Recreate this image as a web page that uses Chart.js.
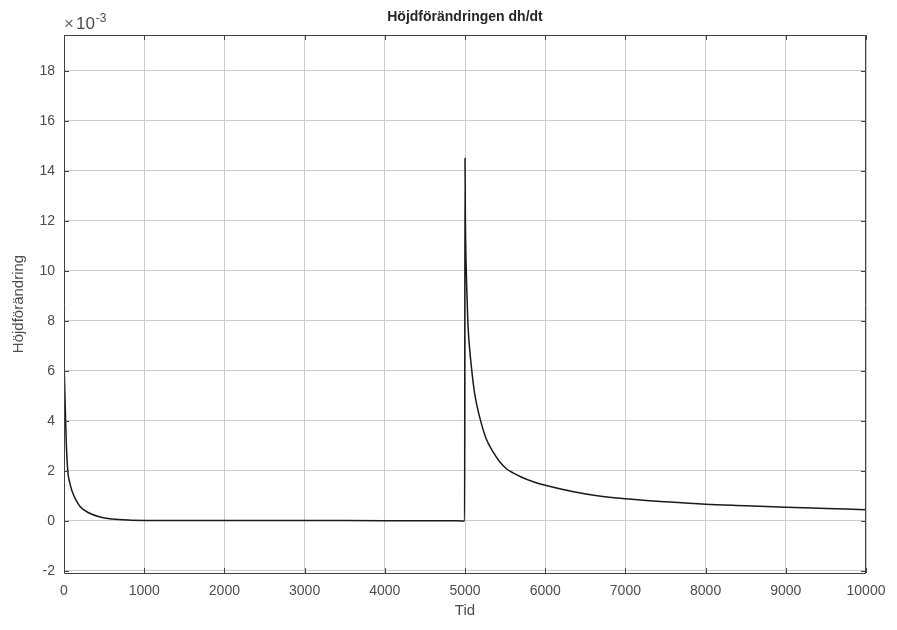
<!DOCTYPE html>
<html>
<head>
<meta charset="utf-8">
<script src="https://cdn.jsdelivr.net/npm/chart.js@4"></script>
<style>
  html, body { margin: 0; padding: 0; background: #fff; }
  #wrap { width: 897px; height: 630px; }
</style>
</head>
<body>
<div id="wrap"><canvas id="dhChart" width="897" height="630"></canvas></div>
<script>
// time (s) and dh/dt in units of 1e-3
const tid = [0, 10, 20, 30, 47, 70, 100, 150, 200, 300, 450, 600, 800, 1000, 1500, 2000, 3000, 4000, 4900, 4995,
             5000, 5005, 5012, 5020, 5035, 5045, 5060, 5085, 5120, 5150, 5195, 5260, 5350, 5430, 5520,
             5600, 5700, 5850, 6000, 6370, 6650, 7000, 7500, 8000, 8500, 9000, 9500, 10000];
const dhdt = [6.5, 5.2, 4.0, 3.0, 2.0, 1.55, 1.2, 0.83, 0.58, 0.34, 0.16, 0.08, 0.035, 0.02, 0.015, 0.02, 0.02, 0.01, 0.005, 0.0,
              14.5, 12.0, 10.5, 9.5, 8.0, 7.4, 6.8, 6.0, 5.1, 4.6, 4.0, 3.32, 2.76, 2.38, 2.08,
              1.92, 1.76, 1.57, 1.43, 1.16, 1.01, 0.89, 0.77, 0.67, 0.61, 0.55, 0.50, 0.45];
const xTicks = [0, 1000, 2000, 3000, 4000, 5000, 6000, 7000, 8000, 9000, 10000];
const yTicks = [-2, 0, 2, 4, 6, 8, 10, 12, 14, 16, 18];

const titleText = 'Höjdförändringen dh/dt';
const xLabel = 'Tid';
const yLabel = 'Höjdförändring';

const FONT = '"Liberation Sans", Arial, Helvetica, sans-serif';
const axisColor = '#404040';

const points = tid.map((t, i) => ({ x: t, y: dhdt[i] }));

// box, inward ticks and texts in the MATLAB look
const matlabDecor = {
  id: 'matlabDecor',
  afterDraw(chart) {
    const ctx = chart.ctx;
    const a = chart.chartArea;
    const xs = chart.scales.x, ys = chart.scales.y;
    ctx.save();
    ctx.strokeStyle = axisColor;
    ctx.lineWidth = 1;
    ctx.beginPath();
    ctx.rect(a.left + 0.5, a.top + 0.5, a.right - a.left - 1, a.bottom - a.top);
    ctx.stroke();
    ctx.beginPath();
    const tl = 5;
    xTicks.forEach(v => {
      const px = Math.round(xs.getPixelForValue(v)) + 0.5;
      ctx.moveTo(px, a.bottom); ctx.lineTo(px, a.bottom - tl);
      ctx.moveTo(px, a.top); ctx.lineTo(px, a.top + tl);
    });
    yTicks.forEach(v => {
      const py = Math.round(ys.getPixelForValue(v)) + 0.5;
      ctx.moveTo(a.left, py); ctx.lineTo(a.left + tl, py);
      ctx.moveTo(a.right, py); ctx.lineTo(a.right - tl, py);
    });
    ctx.stroke();

    // title
    const cx = (a.left + a.right) / 2;
    ctx.fillStyle = '#262626';
    ctx.font = 'bold 14px ' + FONT;
    ctx.textAlign = 'center';
    ctx.textBaseline = 'middle';
    ctx.fillText(titleText, cx, 17);

    // axis labels
    ctx.fillStyle = '#4d4d4d';
    ctx.font = '15px ' + FONT;
    ctx.fillText(xLabel, cx, 611);
    ctx.save();
    ctx.translate(19, (a.top + a.bottom) / 2);
    ctx.rotate(-Math.PI / 2);
    ctx.fillText(yLabel, 0, 0);
    ctx.restore();

    // exponent marker
    ctx.textAlign = 'left';
    ctx.textBaseline = 'alphabetic';
    ctx.fillStyle = '#666666';
    ctx.font = '17px ' + FONT;
    ctx.fillText('×', a.left, 29);
    let x = a.left + ctx.measureText('×').width + 2;
    ctx.fillStyle = '#4d4d4d';
    ctx.fillText('10', x, 29);
    x += ctx.measureText('10').width + 1;
    ctx.font = '12px ' + FONT;
    ctx.fillText('-3', x, 22);
    ctx.restore();
  }
};

const ctx = document.getElementById('dhChart').getContext('2d');
new Chart(ctx, {
  type: 'line',
  data: {
    datasets: [{
      data: points,
      borderColor: '#1a1a1a',
      borderWidth: 1.5,
      pointRadius: 0,
      fill: false,
      cubicInterpolationMode: 'monotone'
    }]
  },
  options: {
    responsive: false,
    animation: false,
    layout: { padding: { top: 35, right: 31, bottom: 0, left: 0 } },
    plugins: {
      legend: { display: false },
      title: { display: false },
      tooltip: { enabled: false }
    },
    scales: {
      x: {
        type: 'linear',
        min: 0,
        max: 10000,
        afterFit: s => { s.height = 57; },
        afterBuildTicks: s => { s.ticks = xTicks.map(v => ({ value: v })); },
        grid: { color: '#cccccc', drawTicks: false },
        border: { display: false },
        ticks: {
          padding: 10,
          color: '#4d4d4d',
          font: { family: FONT, size: 14 },
          maxRotation: 0,
          callback: v => String(v)
        }
      },
      y: {
        type: 'linear',
        min: -2.08,
        max: 19.43,
        afterFit: s => { s.width = 64; },
        afterBuildTicks: s => { s.ticks = yTicks.map(v => ({ value: v })); },
        grid: { color: '#cccccc', drawTicks: false },
        border: { display: false },
        ticks: {
          padding: 9,
          color: '#4d4d4d',
          font: { family: FONT, size: 14 },
          callback: v => String(v)
        }
      }
    }
  },
  plugins: [matlabDecor]
});
</script>
</body>
</html>
